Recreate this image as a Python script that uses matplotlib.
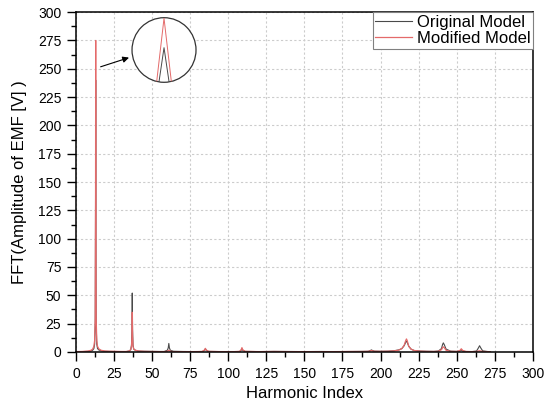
import matplotlib
matplotlib.use('Agg')
import matplotlib.pyplot as plt
from matplotlib.ticker import MultipleLocator
from matplotlib.patches import Ellipse

plt.rcParams['font.family'] = ['Liberation Sans', 'DejaVu Sans']

# harmonic index grid (denser around the peaks)
harmonic = [0, 4, 8, 10, 11, 11.8, 12.3, 12.7, 12.9, 13.0, 13.1, 13.3, 13.7, 14.2, 15, 16.5, 19, 22, 26, 30,
            33, 35, 36, 36.5, 36.8, 37.0, 37.2, 37.5, 38, 39, 41, 45, 50, 55,
            58, 60, 60.6, 61.0, 61.4, 62, 64, 70, 78,
            83, 84.5, 85, 85.5, 87, 95, 104,
            107.5, 108.5, 109, 109.5, 111, 120, 130, 140, 150, 160, 170, 180, 188,
            192, 193.5, 194, 194.5, 196, 200,
            205, 209, 212, 214, 215.5, 216.5, 217, 217.5, 218.5, 220, 222, 226, 230, 235,
            238, 240, 240.7, 241.2, 241.8, 243, 246, 250,
            252, 253, 254, 256, 260,
            263, 264.2, 265, 265.8, 267, 270, 272]

original = [0.2, 0.3, 0.5, 0.9, 1.5, 3, 7, 25, 130, 240, 130, 25, 7, 3, 1.8, 1.0, 0.6, 0.5, 0.4, 0.3,
            0.3, 0.8, 2, 6, 20, 52, 20, 6, 2.5, 1.5, 0.8, 0.6, 0.5, 0.4,
            0.4, 1.5, 3.5, 7.5, 3.5, 1.5, 0.6, 0.4, 0.3,
            0.4, 1.6, 2.8, 1.6, 0.5, 0.3, 0.3,
            0.4, 1.5, 2.8, 1.5, 0.5, 0.3, 0.5, 0.4, 0.3, 0.4, 0.3, 0.4, 0.5,
            0.6, 1.4, 1.8, 1.4, 0.7, 0.6,
            0.7, 1.1, 1.8, 3, 5.5, 8.5, 9.5, 8.5, 5, 2.5, 1.3, 0.8, 0.6, 0.5,
            0.8, 3, 6.5, 8, 6.5, 2.5, 0.7, 0.5,
            0.8, 1.8, 0.8, 0.4, 0.3,
            0.8, 3.5, 5.5, 3.5, 1.0, 0.4, 0.2]

modified = [0.3, 0.4, 0.8, 1.5, 2.5, 5, 10, 30, 135, 275, 135, 30, 10, 5, 2.8, 1.5, 0.8, 0.6, 0.5, 0.4,
            0.4, 0.8, 2, 5, 14, 35, 14, 5, 2.5, 1.5, 0.8, 0.5, 0.4, 0.3,
            0.3, 0.6, 1.0, 1.5, 1.0, 0.6, 0.3, 0.3, 0.3,
            0.4, 1.8, 3.2, 1.8, 0.5, 0.3, 0.3,
            0.5, 2.0, 3.8, 2.0, 0.5, 0.3, 0.4, 0.3, 0.3, 0.3, 0.3, 0.4, 0.4,
            0.5, 1.0, 1.3, 1.0, 0.6, 0.5,
            0.6, 1.0, 1.6, 3, 6, 10, 11.5, 10, 5, 2.5, 1.3, 0.7, 0.5, 0.4,
            0.6, 2, 3.8, 4.5, 3.8, 1.5, 0.5, 0.4,
            1.2, 2.8, 1.2, 0.4, 0.3,
            0.4, 0.8, 1.0, 0.8, 0.4, 0.3, 0.2]

GRAY = '#4a4a4a'
RED = '#e46a6a'

fig = plt.figure(figsize=(5.46, 4.05), dpi=100)
ax = fig.add_axes([0.139, 0.131, 0.837, 0.839])

ax.plot(harmonic, original, color=GRAY, lw=0.8, label='Original Model')
ax.plot(harmonic, modified, color=RED, lw=0.9, label='Modified Model')

ax.set_xlim(0, 300)
ax.set_ylim(0, 300)
ax.xaxis.set_major_locator(MultipleLocator(25))
ax.yaxis.set_major_locator(MultipleLocator(25))
ax.xaxis.set_minor_locator(MultipleLocator(12.5))
ax.yaxis.set_minor_locator(MultipleLocator(12.5))
ax.tick_params(which='major', direction='out', length=6.5, width=1, labelsize=10, pad=4)
ax.tick_params(which='minor', direction='out', length=3.5, width=1)
ax.grid(True, which='major', color='#cccccc', linestyle=(0, (2, 2)), lw=0.8)
for s in ax.spines.values():
    s.set_linewidth(1.1)

ax.set_xlabel('Harmonic Index', fontsize=12)
ax.set_ylabel('FFT(Amplitude of EMF [V] )', fontsize=12, labelpad=8)

leg = ax.legend(loc='upper right', borderaxespad=0, fontsize=12, handlelength=2.2,
                handletextpad=0.3, borderpad=0.15, labelspacing=0.1, fancybox=False,
                framealpha=1)
leg.get_frame().set_edgecolor('#808080')
leg.get_frame().set_linewidth(0.8)

# arrow to the zoomed circle
ax.annotate('', xy=(36.6, 260.6), xytext=(14.5, 251),
            arrowprops=dict(arrowstyle='-|>', color='black', lw=0.8, mutation_scale=9))

# circular zoom of the main peak
ax_in = fig.add_axes([0.2418, 0.7968, 0.1172, 0.1595])
ax_in.axis('off')
circle = Ellipse((0.5, 0.5), 1, 1, transform=ax_in.transAxes, facecolor='white',
                 edgecolor='#333333', lw=0.9, zorder=0, clip_on=False)
ax_in.add_patch(circle)
l1, = ax_in.plot(harmonic, original, color=GRAY, lw=0.7)
l2, = ax_in.plot(harmonic, modified, color=RED, lw=0.7)
l1.set_clip_path(circle)
l2.set_clip_path(circle)
ax_in.set_xlim(12.765, 13.235)
ax_in.set_ylim(198.8, 275.7)

fig.savefig('out.png', dpi=100)
